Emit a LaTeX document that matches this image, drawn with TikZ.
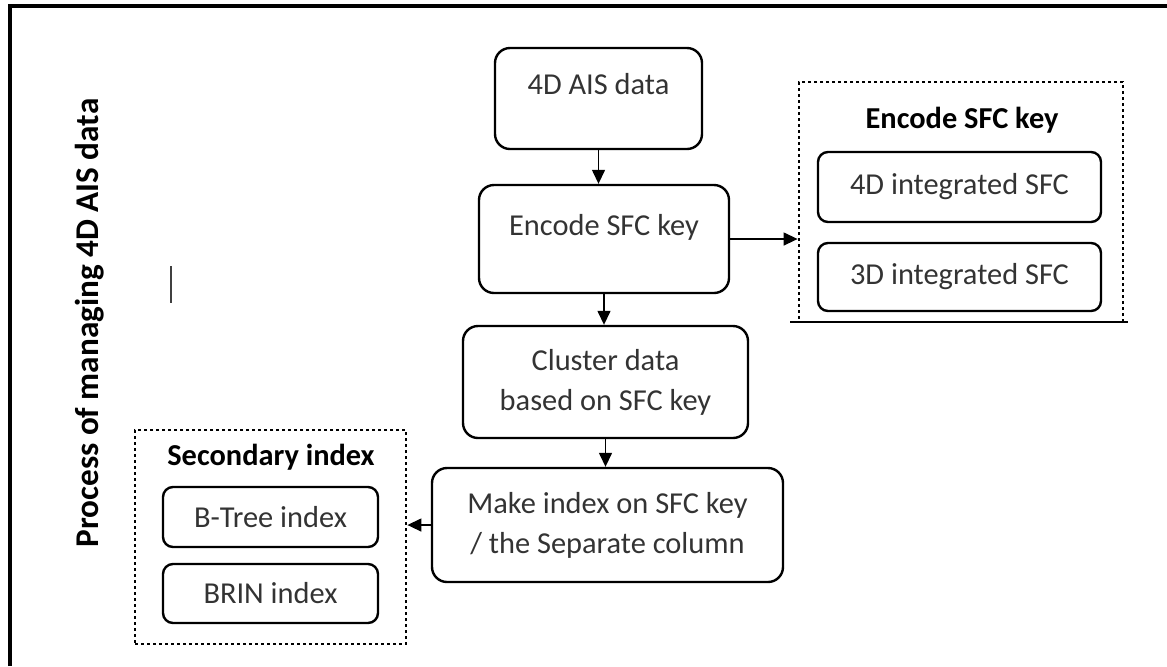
\documentclass[tikz,border=0pt]{standalone}
\usepackage{fontspec}
\setmainfont{Carlito}
\usetikzlibrary{arrows.meta}

\tikzset{
  stage/.style={draw, rounded corners=7.5pt, line width=1.2pt, align=center,
    text=black!80},
  raised/.style={text height=11pt, text depth=15pt},
  item/.style={draw, rounded corners=5pt, line width=1.2pt, align=center,
    text=black!80, minimum width=141.5pt},
  group/.style={draw, line width=1.4pt, dash pattern=on 1.3pt off 1.7pt},
  flow/.style={-{Triangle[length=7pt,width=6.5pt]}, line width=0.7pt}
}

\begin{document}
\begin{tikzpicture}[x=0.5pt, y=-0.5pt, font=\fontsize{15.2}{20}\selectfont]
      \useasboundingbox (0,0) rectangle (1167,666);

      % Frame
      \draw[line width=1.6pt] (10,666) -- (10,6) -- (1167,6);
      \draw[line width=1.2pt, black!75] (171,266) -- (171,303);

      % Title
      \node[rotate=90, font=\fontsize{16.6}{20}\selectfont\bfseries] at (90,323) (title) {Process of managing 4D AIS data};

      % Main steps
      \node[stage, raised, minimum width=103.5pt, minimum height=50.5pt] at (598.5,98.5) (ais) {4D AIS data};
      \node[stage, raised, minimum width=125pt, minimum height=54pt] at (604,239) (enc) {Encode SFC key};
      \node[stage, minimum width=142.5pt, minimum height=56pt] at (605.5,382) (clu) {Cluster data\\based on SFC key};
      \node[stage, minimum width=175.5pt, minimum height=57pt] at (607.5,525) (mk) {Make index on SFC key\\/ the Separate column};

      % Encode SFC key group
      \node[group, minimum width=162pt, minimum height=120pt] at (961,202) (grpE) {};
      \node[font=\fontsize{15.2}{20}\selectfont\bfseries] at (962,120) (grpEhead) {Encode SFC key};
      \node[item, minimum height=35pt] at (959.5,187) (sfc4) {4D integrated SFC};
      \node[item, minimum height=34pt] at (959.5,277) (sfc3) {3D integrated SFC};
      \draw[line width=1pt] (790,322) -- (1128,322);

      % Secondary index group
      \node[group, minimum width=135.5pt, minimum height=107pt] at (270.5,537) (grpS) {};
      \node[font=\fontsize{15.2}{20}\selectfont\bfseries] at (271,457) (grpShead) {Secondary index};
      \node[item, minimum width=107.5pt, minimum height=30pt] at (270.5,517) (btree) {B-Tree index};
      \node[item, minimum width=107.5pt, minimum height=29.5pt] at (270.5,593.5) (brin) {BRIN index};

      % Arrows
      \draw[flow] (ais) -- (ais |- enc.north);
      \draw[flow] (enc) -- (enc |- clu.north);
      \draw[flow] (clu) -- (clu |- mk.north);
      \draw[flow] (enc) -- (enc -| grpE.west);
      \draw[flow] (mk) -- (mk -| grpS.east);
    \end{tikzpicture}
\end{document}
